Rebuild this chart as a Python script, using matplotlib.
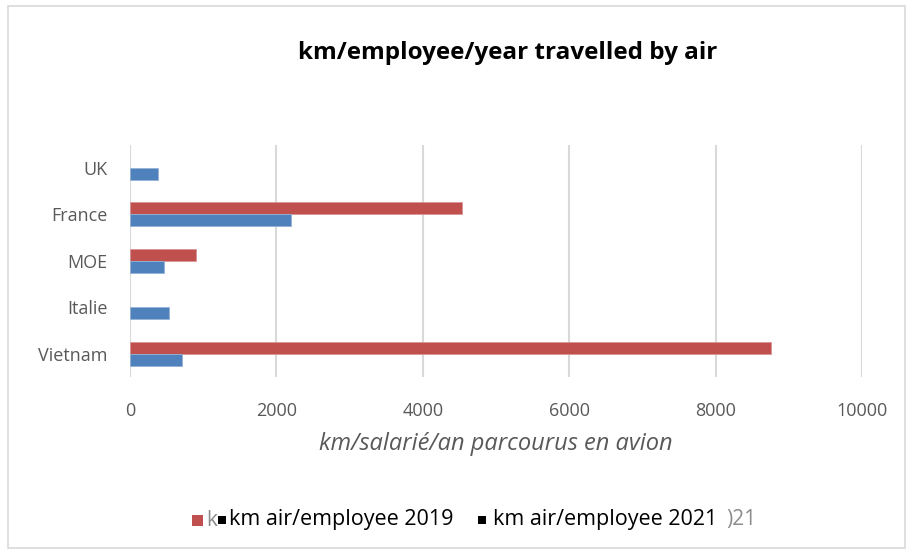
import numpy as np
import matplotlib.pyplot as plt
from matplotlib.patches import Rectangle

# data (nan = no bar)
countries = ["Vietnam", "Italie", "MOE", "France", "UK"]
km_2019 = [8760, np.nan, 905, 4535, np.nan]
km_2021 = [715, 535, 465, 2200, 385]
x_ticks = [0, 2000, 4000, 6000, 8000, 10000]

red = "#C0504D"
blue = "#4F81BD"
grey = "#595959"
font = "Open Sans"

fig = plt.figure(figsize=(9.1, 5.53), dpi=100)
ax = fig.add_axes([130/910, 1-377/553, 732/910, 232.5/553])

y = np.arange(len(countries))
h = 0.26
ax.barh(y + h/2, km_2019, height=h, color=red, edgecolor="#D99694", linewidth=0.6, zorder=3)
ax.barh(y - h/2, km_2021, height=h, color=blue, edgecolor="#95B3D7", linewidth=0.6, zorder=3)

ax.set_xlim(0, 10000)
ax.set_ylim(-0.5, len(countries) - 0.5)
ax.set_xticks(x_ticks)
ax.set_xticklabels([str(t) for t in x_ticks], fontsize=13, color=grey, family=font)
ax.set_yticks(y)
ax.set_yticklabels(countries, fontsize=13, color=grey, family=font)
ax.tick_params(axis="x", length=0, pad=18)
ax.tick_params(axis="y", length=0, pad=16)
ax.grid(axis="x", color="#D9D9D9", linewidth=1.5, zorder=0)
for s in ["top", "right", "bottom", "left"]:
    ax.spines[s].set_visible(False)
ax.set_xlabel("km/salarié/an parcourus en avion", fontsize=17, color=grey,
              style="italic", family=font, labelpad=9)

fig.text(508/910, 1-53/553, "km/employee/year travelled by air", ha="center", va="center",
         fontsize=17.5, fontweight="bold", family=font)

# chart area border
fig.patches.append(Rectangle((8/910, 1-548/553), 897/910, 542/553, transform=fig.transFigure,
                             fill=False, edgecolor="#D9D9D9", linewidth=1.2))

# legend (as it appears in the picture)
def square(x0, size, color):
    fig.patches.append(Rectangle((x0/910, 1-(520+size/2)/553), size/910, size/553,
                                 transform=fig.transFigure, color=color, lw=0))

ly = 1 - 520/553
square(192, 11, red)
fig.text(206/910, ly, "k", color="#8C8C8C", fontsize=15, va="center", family=font)
square(218, 8, "black")
fig.text(229/910, ly, "km air/employee 2019", color="black", fontsize=15.5, va="center", family=font)
square(478, 8, "black")
fig.text(493/910, ly, "km air/employee 2021", color="black", fontsize=15.5, va="center", family=font)
fig.text(726/910, ly, ")21", color="#8C8C8C", fontsize=15, va="center", family=font)

fig.savefig("out.png", dpi=100, facecolor="white")
